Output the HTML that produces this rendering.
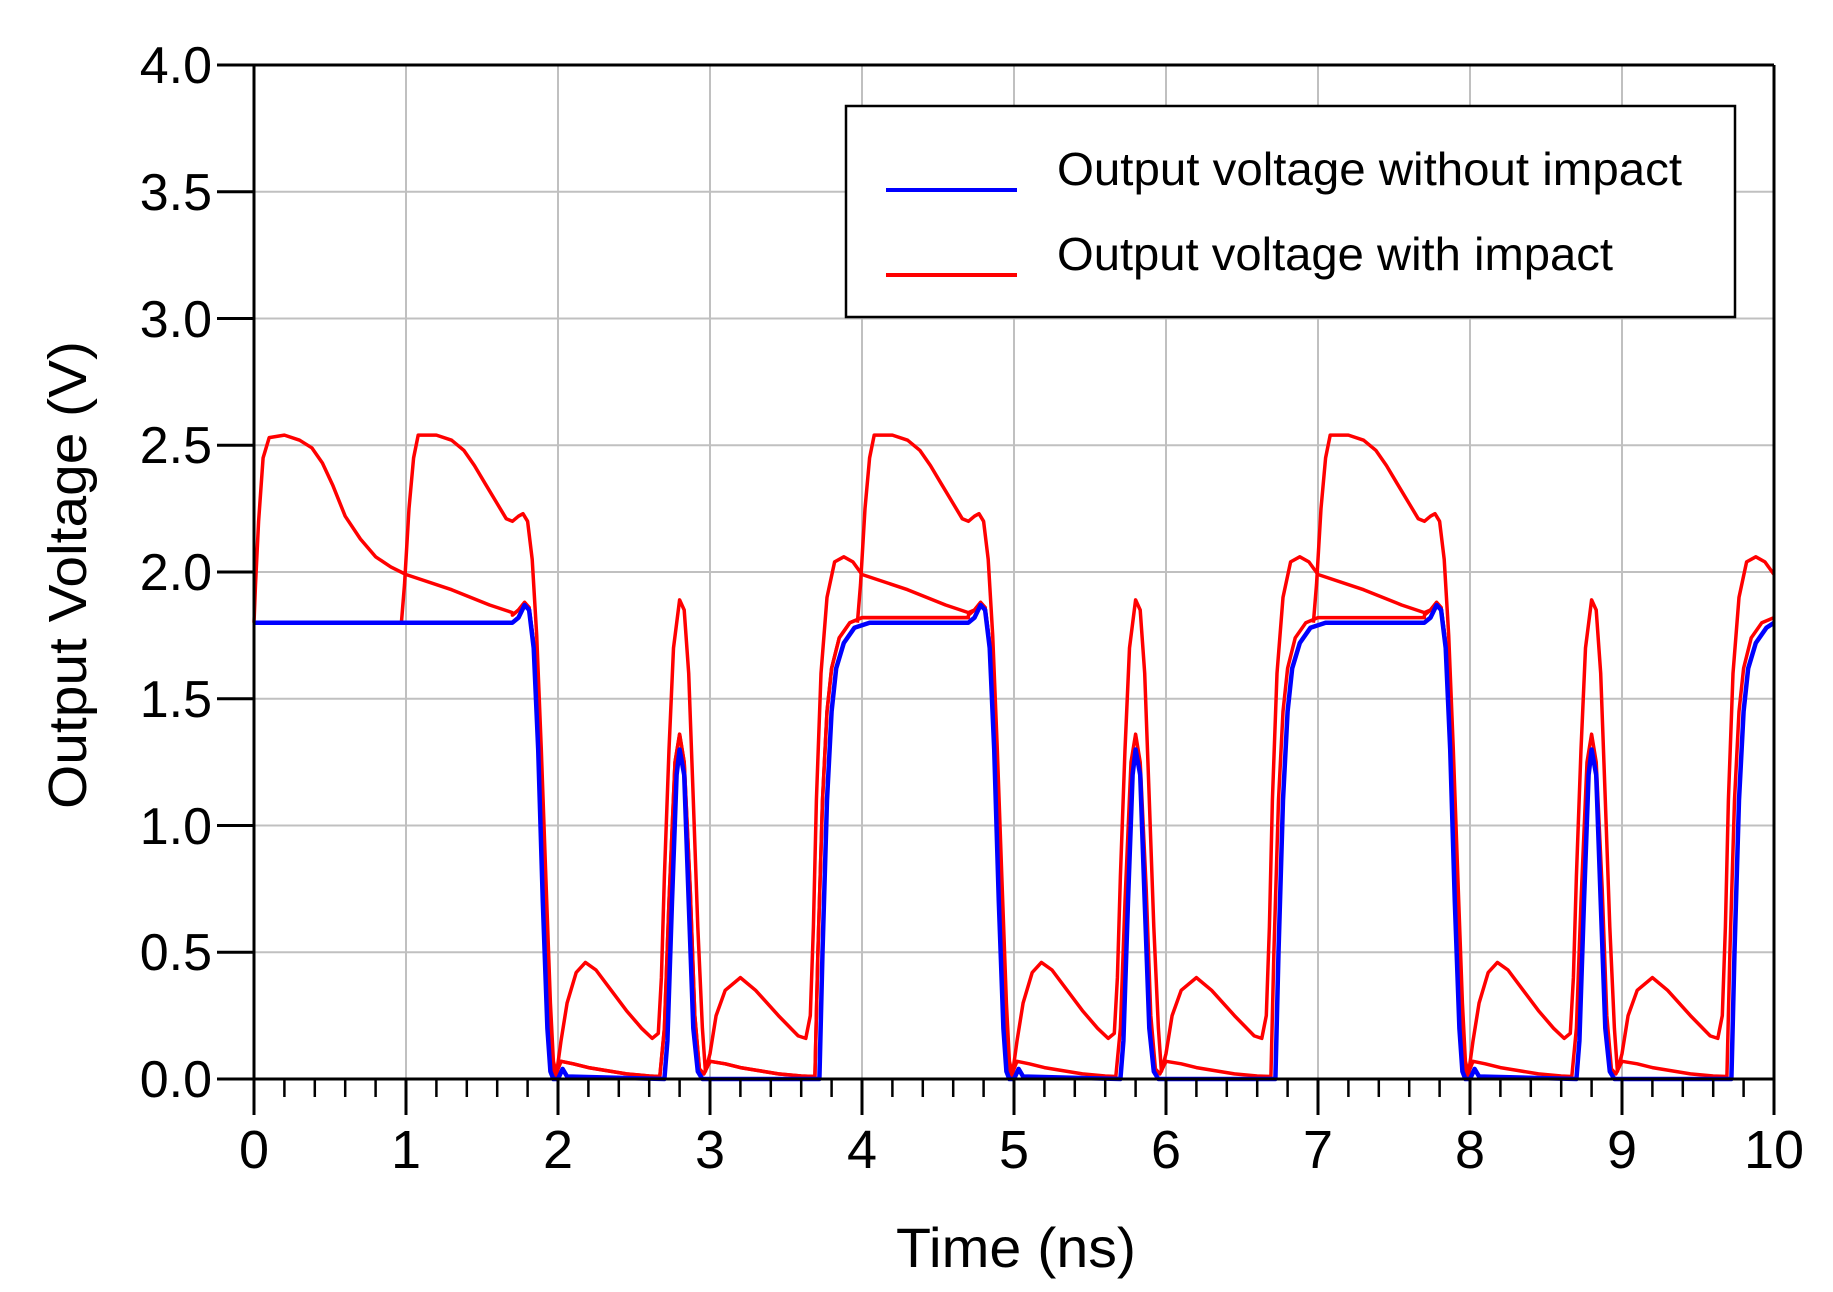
<!DOCTYPE html>
<html><head><meta charset="utf-8"><style>
html,body{margin:0;padding:0;background:#fff;}
svg{display:block;}
text{font-family:"Liberation Sans",Arial,sans-serif;fill:#000;}
</style></head><body>
<svg id="s" width="1833" height="1292" viewBox="0 0 1833 1292" xmlns="http://www.w3.org/2000/svg">
<rect width="1833" height="1292" fill="#fff"/>
<g id="grid" stroke="#c0c0c0" stroke-width="2"></g>
<g id="curves" fill="none" stroke-linejoin="round"></g>
<g id="axes" stroke="#000" stroke-width="3"></g>
<g font-size="52" text-anchor="end">
<text x="212" y="83">4.0</text>
<text x="212" y="210">3.5</text>
<text x="212" y="337">3.0</text>
<text x="212" y="463">2.5</text>
<text x="212" y="590">2.0</text>
<text x="212" y="717">1.5</text>
<text x="212" y="844">1.0</text>
<text x="212" y="970">0.5</text>
<text x="212" y="1097">0.0</text>
</g>
<g font-size="54" text-anchor="middle">
<text x="254" y="1168">0</text>
<text x="406" y="1168">1</text>
<text x="558" y="1168">2</text>
<text x="710" y="1168">3</text>
<text x="862" y="1168">4</text>
<text x="1014" y="1168">5</text>
<text x="1166" y="1168">6</text>
<text x="1318" y="1168">7</text>
<text x="1470" y="1168">8</text>
<text x="1622" y="1168">9</text>
<text x="1774" y="1168">10</text>
</g>
<text x="1016" y="1267" font-size="56" text-anchor="middle" textLength="240" lengthAdjust="spacingAndGlyphs">Time (ns)</text>
<text transform="translate(86,575) rotate(-90)" font-size="54" text-anchor="middle" textLength="468" lengthAdjust="spacingAndGlyphs">Output Voltage (V)</text>
<rect x="846" y="106" width="889" height="211" fill="#fff" stroke="#000" stroke-width="2.5"/>
<line x1="886" y1="190" x2="1017" y2="190" stroke="#0000ff" stroke-width="4"/>
<line x1="886" y1="275" x2="1017" y2="275" stroke="#ff0000" stroke-width="4"/>
<text x="1057" y="185" font-size="46" textLength="625" lengthAdjust="spacingAndGlyphs">Output voltage without impact</text>
<text x="1057" y="270" font-size="46" textLength="556" lengthAdjust="spacingAndGlyphs">Output voltage with impact</text>
</svg>
<script>
(function(){
var NS="http://www.w3.org/2000/svg";
function X(t){return 254+152*t;}
function Y(v){return 1079-253.5*v;}
function el(g,name,attrs){var e=document.createElementNS(NS,name);for(var k in attrs)e.setAttribute(k,attrs[k]);document.getElementById(g).appendChild(e);return e;}
for(var i=1;i<10;i++)el("grid","line",{x1:X(i),y1:65,x2:X(i),y2:1079});
for(var j=1;j<8;j++)el("grid","line",{x1:254,y1:Y(j*0.5),x2:1774,y2:Y(j*0.5)});
el("axes","line",{x1:217,y1:65,x2:1774,y2:65});
el("axes","line",{x1:1774,y1:65,x2:1774,y2:1115});
el("axes","line",{x1:254,y1:65,x2:254,y2:1115});
el("axes","line",{x1:217,y1:1079,x2:1774,y2:1079});
for(var j=0;j<=8;j++)el("axes","line",{x1:217,y1:Y(j*0.5),x2:254,y2:Y(j*0.5)});
for(var i=0;i<=50;i++){var t=i*0.2;var major=(i%5==0);el("axes","line",{x1:X(t),y1:1079,x2:X(t),y2:major?1115:1097,"stroke-width":major?3:2.5});}
function path(pts,color,w){var d="";var first=true;pts.forEach(function(p){if(p[0]<0||p[0]>10.001)return;d+=(first?"M":"L")+X(p[0]).toFixed(1)+" "+Y(p[1]).toFixed(1)+" ";first=false;});el("curves","path",{d:d,stroke:color,"stroke-width":w});}
function shift(seg,o){return seg.map(function(p){return [p[0]+o,p[1]];});}
var blueSeg=[[1.7,1.8],[1.74,1.82],[1.78,1.87],[1.81,1.85],[1.84,1.7],[1.87,1.3],[1.9,0.7],[1.93,0.2],[1.95,0.03],[1.97,0],[2.0,0],[2.03,0.04],[2.06,0.01],[2.7,0],[2.72,0.15],[2.75,0.7],[2.78,1.2],[2.8,1.3],[2.83,1.2],[2.86,0.7],[2.89,0.2],[2.92,0.03],[2.95,0],[3.72,0],[3.74,0.5],[3.77,1.1],[3.8,1.45],[3.83,1.62],[3.88,1.72],[3.95,1.78],[4.05,1.8],[4.7,1.8]];
var blue=[[0,1.8]];for(var o=0;o<=6;o+=3)blue=blue.concat(shift(blueSeg,o));
blue=blue.filter(function(p){return p[0]<=9.99;});blue.push([10,1.8]);
var lowSeg=[[1.7,1.83],[1.74,1.85],[1.78,1.88],[1.81,1.86],[1.84,1.72],[1.87,1.35],[1.9,0.8],[1.93,0.3],[1.96,0.05],[1.98,0],[2.0,0.04],[2.02,0.07],[2.1,0.06],[2.2,0.045],[2.3,0.035],[2.45,0.02],[2.6,0.012],[2.67,0.01],[2.7,0.2],[2.73,0.7],[2.77,1.25],[2.8,1.36],[2.83,1.25],[2.87,0.75],[2.9,0.25],[2.93,0.04],[2.96,0.02],[3.0,0.07],[3.1,0.06],[3.2,0.045],[3.3,0.035],[3.45,0.02],[3.6,0.012],[3.69,0.01],[3.71,0.5],[3.74,1.1],[3.77,1.45],[3.8,1.62],[3.85,1.74],[3.92,1.8],[4.0,1.82],[4.7,1.82]];
var low=[];for(var o=0;o<=6;o+=3)low=low.concat(shift(lowSeg,o));
low=low.filter(function(p){return p[0]<=9.99;});low.push([10,1.82]);
var redA=[[0,1.8],[0.01,1.95],[0.03,2.2],[0.06,2.45],[0.1,2.53],[0.2,2.54],[0.3,2.52],[0.38,2.49],[0.45,2.43],[0.52,2.34],[0.6,2.22],[0.7,2.13],[0.8,2.06],[0.9,2.02],[1.0,1.99],[1.3,1.93],[1.55,1.87],[1.7,1.84]].concat(lowSeg);
var hiSeg=[[-0.03,1.8],[-0.01,1.95],[0.02,2.25],[0.05,2.45],[0.08,2.54],[0.2,2.54],[0.3,2.52],[0.38,2.48],[0.45,2.42],[0.52,2.35],[0.6,2.27],[0.66,2.21],[0.7,2.2],[0.74,2.22],[0.77,2.23],[0.8,2.2],[0.83,2.05],[0.86,1.75],[0.89,1.3],[0.92,0.8],[0.95,0.3],[0.97,0.07],[0.99,0.02],[1.02,0.15],[1.06,0.3],[1.12,0.42],[1.18,0.46],[1.25,0.43],[1.35,0.35],[1.45,0.27],[1.55,0.2],[1.62,0.16],[1.66,0.18],[1.68,0.4],[1.7,0.8],[1.73,1.3],[1.76,1.7],[1.8,1.89],[1.83,1.85],[1.86,1.6],[1.89,1.1],[1.92,0.6],[1.95,0.2],[1.97,0.03],[2.0,0.1],[2.04,0.25],[2.1,0.35],[2.2,0.4],[2.3,0.35],[2.45,0.25],[2.58,0.17],[2.63,0.16],[2.66,0.25],[2.68,0.6],[2.7,1.1],[2.73,1.6],[2.77,1.9],[2.82,2.04],[2.88,2.06],[2.94,2.04],[3.0,1.99],[3.3,1.93],[3.55,1.87],[3.7,1.84],[3.74,1.85],[3.78,1.88],[3.81,1.86],[3.84,1.72],[3.87,1.35],[3.9,0.8],[3.93,0.3],[3.96,0.05],[3.98,0]];
path(redA,"#ff0000",3.5);
path(low,"#ff0000",3.5);
for(var o=1;o<=7;o+=3)path(shift(hiSeg,o),"#ff0000",3.5);
path(blue,"#0000ff",4.5);
})();
</script>
</body></html>
